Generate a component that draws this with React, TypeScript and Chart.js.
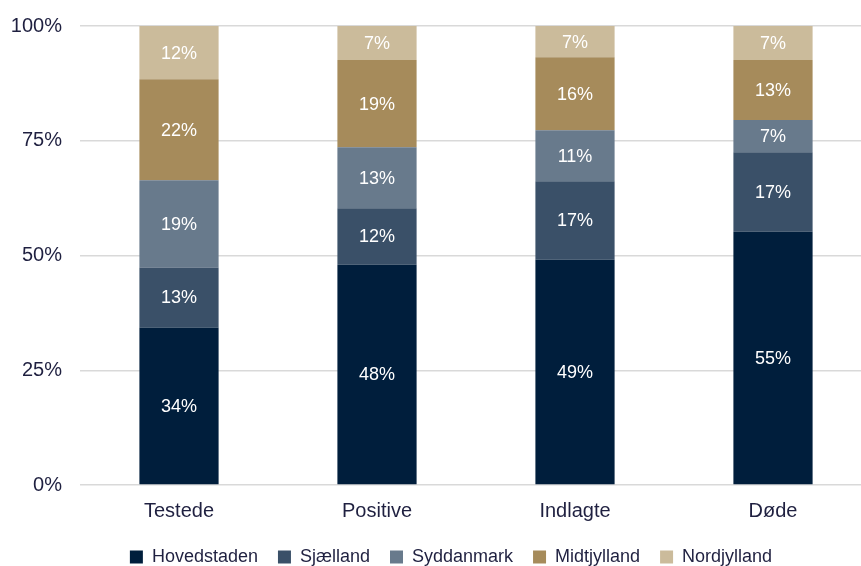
import React, { useEffect, useRef } from "react";
import { Chart, registerables } from "chart.js";

Chart.register(...registerables);

const categories = ["Testede", "Positive", "Indlagte", "Døde"];
const seriesNames = ["Hovedstaden", "Sjælland", "Syddanmark", "Midtjylland", "Nordjylland"];
const hovedstaden = [34.3, 48.0, 49.1, 55.2];
const sjaelland = [13.1, 12.3, 17.1, 17.3];
const syddanmark = [19.0, 13.3, 11.1, 7.0];
const midtjylland = [22.0, 19.0, 15.9, 13.1];
const nordjylland = [11.6, 7.4, 6.8, 7.4];
const yTicks = [0, 25, 50, 75, 100];

const colors = ["#001e3c", "#3a5068", "#687a8c", "#a68b5b", "#cbbb9b"];
const textColor = "#1f2040";
const FONT = "'Liberation Sans', Arial, sans-serif";

const dataLabels = {
  id: "dataLabels",
  afterDatasetsDraw(chart: any) {
    const ctx = chart.ctx;
    ctx.save();
    ctx.font = "18px " + FONT;
    ctx.fillStyle = "#ffffff";
    ctx.textAlign = "center";
    ctx.textBaseline = "middle";
    chart.data.datasets.forEach((ds: any, i: number) => {
      const meta = chart.getDatasetMeta(i);
      meta.data.forEach((bar: any, j: number) => {
        const v = ds.data[j];
        const { x, y, base } = bar.getProps(["x", "y", "base"], true);
        ctx.fillText(Math.round(v) + "%", x, (y + base) / 2 + 1);
      });
    });
    ctx.restore();
  },
};

const legendShift = {
  id: "legendShift",
  afterLayout(chart: any) {
    if (chart.legend) chart.legend.left = 30;
  },
};

export default function App() {
  const ref = useRef<HTMLCanvasElement>(null);
  useEffect(() => {
    const all = [hovedstaden, sjaelland, syddanmark, midtjylland, nordjylland];
    const chart = new Chart(ref.current!, {
      type: "bar",
      data: {
        labels: categories,
        datasets: seriesNames.map((name, i) => ({
          label: name,
          data: all[i],
          backgroundColor: colors[i],
          borderWidth: 0,
          categoryPercentage: 1,
          barPercentage: 0.4,
        })),
      },
      options: {
        responsive: false,
        animation: false,
        layout: { padding: { top: 26, left: 0, right: 0, bottom: -10 } },
        plugins: {
          legend: {
            position: "bottom",
            labels: {
              boxWidth: 13,
              boxHeight: 13,
              padding: 20,
              color: textColor,
              font: { family: FONT, size: 18 },
            },
          },
          tooltip: { enabled: false },
        },
        scales: {
          x: {
            stacked: true,
            grid: { display: false, drawTicks: false },
            border: { display: false },
            afterFit: (scale: any) => {
              scale.height = 43;
            },
            ticks: {
              color: textColor,
              padding: 14,
              font: { family: FONT, size: 20 },
            },
          },
          y: {
            stacked: true,
            min: 0,
            max: 100,
            afterBuildTicks: (scale: any) => {
              scale.ticks = yTicks.map((v) => ({ value: v }));
            },
            afterFit: (scale: any) => {
              scale.width = 80;
              scale.paddingTop = 0;
              scale.paddingBottom = 0;
            },
            grid: { color: "#d9d9d9", drawTicks: false, lineWidth: 1.5 },
            border: { display: false },
            ticks: {
              color: textColor,
              padding: 18,
              font: { family: FONT, size: 20 },
              callback: (v: any) => v + "%",
            },
          },
        },
      },
      plugins: [dataLabels, legendShift],
    });
    return () => chart.destroy();
  }, []);
  return (
    <div style={{ position: "fixed", left: 0, top: 0, width: 861, height: 566, overflow: "hidden", background: "#fff" }}>
      <canvas ref={ref} width={872} height={566} />
    </div>
  );
}
